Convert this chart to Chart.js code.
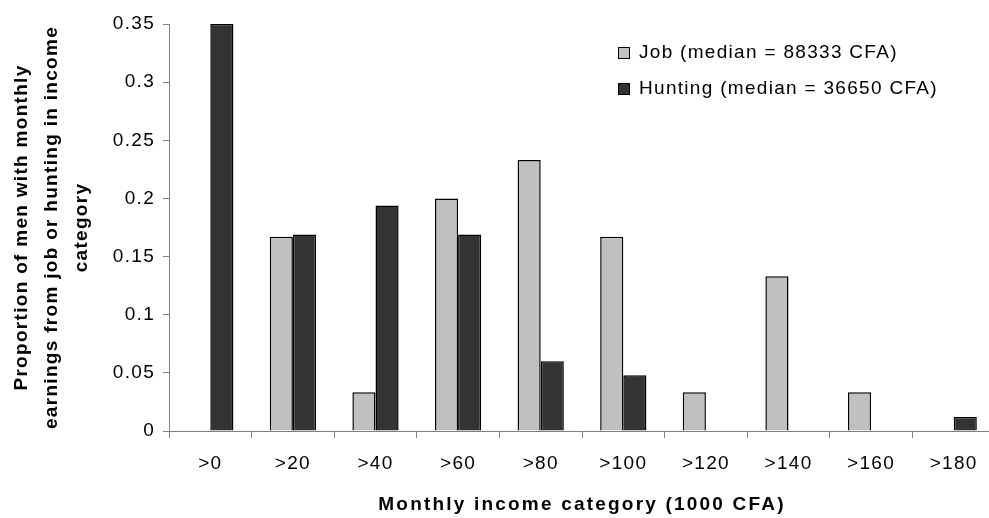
<!DOCTYPE html>
<html>
<head>
<meta charset="utf-8">
<script src="https://cdn.jsdelivr.net/npm/chart.js@4/dist/chart.umd.min.js"></script>
<style>
  html, body { margin: 0; padding: 0; background: #fff; overflow: hidden; }
  #wrap { width: 995px; height: 518px; }
</style>
</head>
<body>
<div id="wrap"><canvas id="bar-chart" width="995" height="518"></canvas></div>
<script>
// income categories (1000 CFA)
let categories = ['>0', '>20', '>40', '>60', '>80', '>100', '>120', '>140', '>160', '>180'];

// proportion of men in each category
let jobValues     = [0, 0.167, 0.0333, 0.2, 0.233, 0.167, 0.0333, 0.133, 0.0333, 0];
let huntingValues = [0.35, 0.169, 0.194, 0.169, 0.06, 0.048, 0, 0, 0, 0.012];

let seriesLabels = ['Job (median = 88333 CFA)', 'Hunting (median = 36650 CFA)'];
let yTicks = [0, 0.05, 0.1, 0.15, 0.2, 0.25, 0.3, 0.35];

const FONT = '"Liberation Sans", Arial, sans-serif';

// the original text is a bit wide, so spread every glyph a little
const wideText = {
  id: 'wideText',
  beforeDraw(chart) {
    chart.ctx.letterSpacing = '1.3px';
  }
};

// legend drawn inside the plot, top right
const boxLegend = {
  id: 'boxLegend',
  afterDraw(chart) {
    const ctx = chart.ctx;
    ctx.save();
    ctx.letterSpacing = '1.3px';
    ctx.font = '19px ' + FONT;
    ctx.textBaseline = 'middle';
    chart.data.datasets.forEach((ds, i) => {
      const y = 53 + i * 36;
      ctx.fillStyle = ds.backgroundColor;
      ctx.strokeStyle = '#000';
      ctx.lineWidth = 1;
      ctx.fillRect(618.5, y - 5.5, 11, 11);
      ctx.strokeRect(618.5, y - 5.5, 11, 11);
      ctx.fillStyle = '#000';
      ctx.fillText(ds.label, 639, y);
    });
    ctx.restore();
  }
};

// x axis title, letter-spaced
const xTitle = {
  id: 'xTitle',
  afterDraw(chart) {
    const ctx = chart.ctx;
    ctx.save();
    ctx.font = 'bold 19px ' + FONT;
    ctx.letterSpacing = '2.2px';
    ctx.textAlign = 'center';
    ctx.textBaseline = 'middle';
    ctx.fillStyle = '#000';
    ctx.fillText('Monthly income category (1000 CFA)', 582, 505);
    ctx.restore();
  }
};

new Chart(document.getElementById('bar-chart'), {
  type: 'bar',
  data: {
    labels: categories,
    datasets: [
      {
        label: seriesLabels[0],
        data: jobValues,
        backgroundColor: '#c0c0c0',
        borderColor: '#000',
        borderWidth: 1.5,
        categoryPercentage: 0.56,
        barPercentage: 1.0,
      },
      {
        label: seriesLabels[1],
        data: huntingValues,
        backgroundColor: '#333333',
        borderColor: '#000',
        borderWidth: 1.5,
        categoryPercentage: 0.56,
        barPercentage: 1.0,
      },
    ],
  },
  options: {
    responsive: false,
    animation: false,
    layout: { padding: { top: 24, right: 0, left: 0, bottom: 0 } },
    plugins: {
      legend: { display: false },
      tooltip: { enabled: false },
    },
    scales: {
      x: {
        grid: { display: true, drawOnChartArea: false, drawTicks: true, tickLength: 7, color: '#808080', offset: true },
        border: { display: true, color: '#808080', width: 1 },
        ticks: { color: '#000', font: { family: FONT, size: 19 }, padding: 14, maxRotation: 0 },
        afterFit(scale) { scale.height = 87; },
      },
      y: {
        min: 0,
        max: 0.35,
        afterBuildTicks(scale) { scale.ticks = yTicks.map(v => ({ value: v })); },
        grid: { display: true, drawOnChartArea: false, drawTicks: true, tickLength: 6, color: '#808080' },
        border: { display: true, color: '#808080', width: 1 },
        ticks: { color: '#000', font: { family: FONT, size: 19 }, padding: 8, callback: v => String(v) },
        title: {
          display: true,
          text: ['Proportion of men with monthly', 'earnings from job or hunting in income', 'category'],
          color: '#000',
          font: { family: FONT, size: 19, weight: 'bold', lineHeight: 1.58 },
          padding: { top: 7, bottom: 4 },
        },
        afterFit(scale) { scale.width = 169; },
      },
    },
  },
  plugins: [wideText, boxLegend, xTitle],
});
</script>
</body>
</html>
